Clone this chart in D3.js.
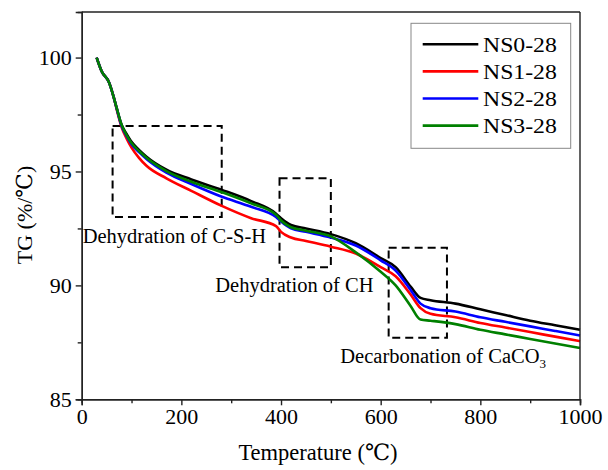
<!DOCTYPE html>
<html>
<head>
<meta charset="utf-8">
<script src="https://cdn.jsdelivr.net/npm/d3@7"></script>
<style>
  html, body { margin: 0; padding: 0; background: #fff; }
</style>
</head>
<body>
<svg id="chart" width="608" height="470"></svg>
<script>
// Temperature sampling points (°C)
const temps = [30, 40, 55, 65, 70, 80, 90, 100, 115, 130, 170, 220, 280, 340, 390, 400, 420, 450, 500, 550, 600, 630, 660, 680, 700, 750, 800, 850, 900, 950, 1000];

// Mass retained (%) for each mix
const ns0 = [100, 99.4, 98.9, 98.2, 97.8, 97.05, 96.65, 96.3, 95.95, 95.65, 95.08, 94.65, 94.2, 93.7, 93.15, 92.95, 92.65, 92.5, 92.25, 91.85, 91.2, 90.8, 89.95, 89.45, 89.35, 89.2, 88.95, 88.7, 88.45, 88.25, 88.05];
const ns1 = [100, 99.4, 98.9, 98.2, 97.75, 96.95, 96.45, 96.05, 95.6, 95.25, 94.7, 94.15, 93.5, 92.95, 92.6, 92.35, 92.1, 91.95, 91.7, 91.4, 90.8, 90.4, 89.6, 89.0, 88.75, 88.6, 88.35, 88.15, 87.95, 87.75, 87.55];
const ns2 = [100, 99.4, 98.9, 98.2, 97.78, 97.0, 96.55, 96.2, 95.85, 95.55, 94.95, 94.45, 93.9, 93.45, 93.0, 92.8, 92.5, 92.35, 92.1, 91.75, 91.1, 90.65, 89.8, 89.2, 89.0, 88.85, 88.6, 88.4, 88.2, 88.0, 87.8];
const ns3 = [100, 99.4, 98.9, 98.2, 97.8, 97.05, 96.6, 96.25, 95.9, 95.6, 95.02, 94.55, 94.1, 93.6, 93.1, 92.85, 92.55, 92.4, 92.15, 91.45, 90.6, 90.0, 89.1, 88.5, 88.45, 88.3, 88.05, 87.85, 87.65, 87.45, 87.25];

const seriesNames = ["NS0-28", "NS1-28", "NS2-28", "NS3-28"];
const seriesColors = ["#000000", "#ff0000", "#0000ff", "#008000"];

// Axis ticks
const xTicks = [0, 200, 400, 600, 800, 1000];
const xMinorTicks = [100, 300, 500, 700, 900];
const yTicks = [85, 90, 95, 100];
const yMinorTicks = [87.5, 92.5, 97.5];

// Dashed regions marking the decomposition stages [T0, T1, v0, v1]
const regions = [
  [62, 281, 93.0, 97.0],
  [397, 500, 90.8, 94.7],
  [616, 733, 87.7, 91.65]
];
// Stage labels: text, temperature anchor, baseline value
const stageText = ["Dehydration of C-S-H", "Dehydration of CH", "Decarbonation of CaCO"];
const stageT = [2, 268, 519];
const stageV = [91.87, 89.72, 86.58];

const FONT = "'Liberation Serif', 'Times New Roman', 'DejaVu Serif', serif";
const W = 608, H = 470;
const margin = { left: 81.7, right: 28, top: 12, bottom: 70.7 };
const svg = d3.select("#chart");

const x = d3.scaleLinear().domain([0, 1000]).range([margin.left, W - margin.right]);
const y = d3.scaleLinear().domain([85, 102]).range([H - margin.bottom, margin.top]);

const series = [ns0, ns1, ns2, ns3].map((vals, i) => ({
  name: seriesNames[i],
  color: seriesColors[i],
  points: temps.map((t, j) => [t, vals[j]])
}));

// Dashed region boxes
svg.append("g").selectAll("rect").data(regions).join("rect")
  .attr("x", d => x(d[0]))
  .attr("y", d => y(d[3]))
  .attr("width", d => x(d[1]) - x(d[0]))
  .attr("height", d => y(d[2]) - y(d[3]))
  .attr("fill", "none")
  .attr("stroke", "#000")
  .attr("stroke-width", 2)
  .attr("stroke-dasharray", "8,5");

// Curves
const line = d3.line()
  .x(d => x(d[0]))
  .y(d => y(d[1]))
  .curve(d3.curveMonotoneX);

svg.append("g").selectAll("path").data(series).join("path")
  .attr("d", d => line(d.points))
  .attr("fill", "none")
  .attr("stroke", d => d.color)
  .attr("stroke-width", 2.6)
  .attr("stroke-linejoin", "round");

// Stage labels
const labels = svg.append("g");
stageText.forEach((txt, i) => {
  const t = labels.append("text")
    .attr("x", x(stageT[i]))
    .attr("y", y(stageV[i]))
    .style("font-family", FONT)
    .style("font-size", "20.5px")
    .attr("fill", "#000")
    .text(txt);
  if (i === 2) {
    t.append("tspan").attr("dy", 5).style("font-size", "13px").text("3");
  }
});

// Axes
const axisColor = "#222";
const xAxis = svg.append("g")
  .attr("transform", `translate(0,${y(85)})`)
  .call(d3.axisBottom(x).tickValues(xTicks).tickSize(6).tickPadding(3).tickFormat(d3.format("d")));
const xMinor = svg.append("g")
  .attr("transform", `translate(0,${y(85)})`)
  .call(d3.axisBottom(x).tickValues(xMinorTicks).tickSize(4).tickFormat(""));
const yAxis = svg.append("g")
  .attr("transform", `translate(${x(0)},0)`)
  .call(d3.axisLeft(y).tickValues(yTicks).tickSize(6).tickPadding(4).tickFormat(d3.format("d")));
const yMinor = svg.append("g")
  .attr("transform", `translate(${x(0)},0)`)
  .call(d3.axisLeft(y).tickValues(yMinorTicks).tickSize(4).tickFormat(""));

[xAxis, xMinor, yAxis, yMinor].forEach(g => {
  g.select(".domain").attr("stroke", axisColor).attr("stroke-width", 1.4);
  g.selectAll(".tick line").attr("stroke", axisColor).attr("stroke-width", 1.4);
  g.selectAll(".tick text")
    .style("font-family", FONT)
    .style("font-size", "22px")
    .attr("fill", "#000");
});

// Top and right frame lines
svg.append("line")
  .attr("x1", x(0)).attr("x2", x(1000)).attr("y1", y(102)).attr("y2", y(102))
  .attr("stroke", axisColor).attr("stroke-width", 1.4);
svg.append("line")
  .attr("x1", x(1000)).attr("x2", x(1000)).attr("y1", y(102)).attr("y2", y(85))
  .attr("stroke", axisColor).attr("stroke-width", 1.4);

// Axis titles
svg.append("text")
  .attr("x", 318).attr("y", 460)
  .attr("text-anchor", "middle")
  .style("font-family", FONT)
  .style("font-size", "22.5px")
  .attr("fill", "#000")
  .text("Temperature (℃)");
svg.append("text")
  .attr("transform", "translate(32,215) rotate(-90)")
  .attr("text-anchor", "middle")
  .style("font-family", FONT)
  .style("font-size", "22px")
  .attr("fill", "#000")
  .text("TG (%/℃)");

// Legend
const legend = svg.append("g");
legend.append("rect")
  .attr("x", 411).attr("y", 23.3).attr("width", 159.7).attr("height", 125)
  .attr("fill", "#fff").attr("stroke", "#888").attr("stroke-width", 1);
const rows = legend.selectAll("g.row").data(series).join("g")
  .attr("class", "row")
  .attr("transform", (d, i) => `translate(0,${44.3 + i * 27.1})`);
rows.append("line")
  .attr("x1", 422.7).attr("x2", 478.3).attr("y1", 0).attr("y2", 0)
  .attr("stroke", d => d.color).attr("stroke-width", 2.6);
rows.append("text")
  .attr("transform", "translate(483,7.5) scale(1.08,1)")
  .style("font-family", FONT)
  .style("font-size", "22px")
  .attr("fill", "#000")
  .text(d => d.name);
</script>
</body>
</html>
